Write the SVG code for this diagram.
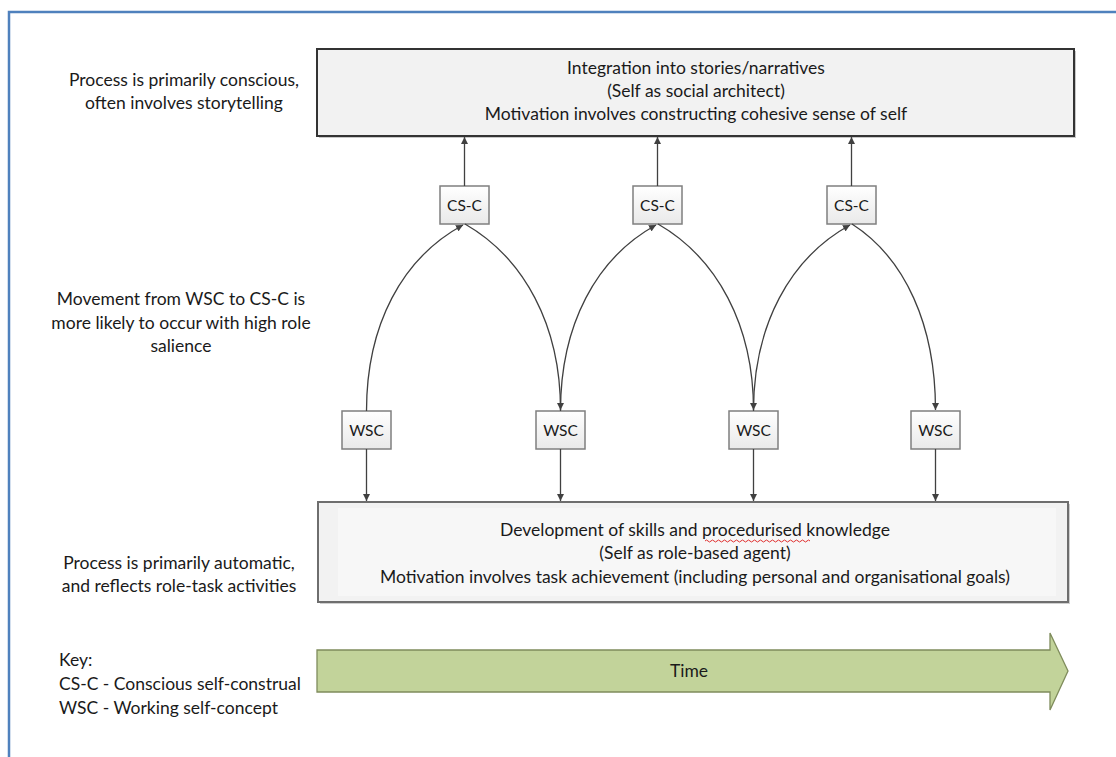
<svg xmlns="http://www.w3.org/2000/svg" width="1116" height="757" viewBox="0 0 1116 757">
  <style>
    text { font-family: Lato, "Open Sans", "Liberation Sans", sans-serif; fill: #1a1a1a; font-size: 17.5px; }
    .mid { text-anchor: middle; }
    .small { font-size: 15.5px; text-anchor: middle; }
    .conn { fill: none; stroke: #404040; stroke-width: 1.3; marker-end: url(#arrow); }
    .mini { fill: url(#miniFill); stroke: #7f7f7f; stroke-width: 1.5; }
  </style>
  <defs>
    <marker id="arrow" viewBox="0 0 10 10" refX="10" refY="5" markerWidth="7" markerHeight="7" markerUnits="userSpaceOnUse" orient="auto">
      <path d="M0,0 L10,5 L0,10 z" fill="#404040"/>
    </marker>
    <linearGradient id="miniFill" x1="0" y1="0" x2="0" y2="1">
      <stop offset="0" stop-color="#ffffff"/>
      <stop offset="1" stop-color="#e9e9e9"/>
    </linearGradient>
  </defs>

  <rect width="1116" height="757" fill="#ffffff"/>

  <!-- page frame -->
  <path d="M9,757 L9,12 L1116,12" fill="none" stroke="#4f81bd" stroke-width="2.5"/>

  <!-- side notes -->
  <g id="note-conscious">
    <text class="mid" x="184" y="86">Process is primarily conscious,</text>
    <text class="mid" x="184" y="109">often involves storytelling</text>
  </g>
  <g id="note-movement">
    <text class="mid" x="181" y="305">Movement from WSC to CS-C is</text>
    <text class="mid" x="181" y="329">more likely to occur with high role</text>
    <text class="mid" x="181" y="352">salience</text>
  </g>
  <g id="note-automatic">
    <text class="mid" x="179" y="569">Process is primarily automatic,</text>
    <text class="mid" x="179" y="592">and reflects role-task activities</text>
  </g>

  <!-- upper level: narratives -->
  <g id="narratives">
    <rect x="319" y="51" width="757" height="87" fill="#c8c8c8"/>
    <rect x="317" y="49" width="757" height="87" fill="#f2f2f2" stroke="#333333" stroke-width="2"/>
    <text class="mid" x="696" y="74">Integration into stories/narratives</text>
    <text class="mid" x="696" y="97">(Self as social architect)</text>
    <text class="mid" x="696" y="120">Motivation involves constructing cohesive sense of self</text>
  </g>

  <!-- conscious self-construal nodes -->
  <g id="csc-1">
    <rect class="mini" x="440" y="186" width="49" height="38"/>
    <text class="small" x="464.5" y="210.5">CS-C</text>
  </g>
  <g id="csc-2">
    <rect class="mini" x="633" y="186" width="49" height="38"/>
    <text class="small" x="657.5" y="210.5">CS-C</text>
  </g>
  <g id="csc-3">
    <rect class="mini" x="827" y="186" width="49" height="38"/>
    <text class="small" x="851.5" y="210.5">CS-C</text>
  </g>

  <!-- working self-concept nodes -->
  <g id="wsc-1">
    <rect class="mini" x="342" y="411" width="49" height="38"/>
    <text class="small" x="366.5" y="435.5">WSC</text>
  </g>
  <g id="wsc-2">
    <rect class="mini" x="536" y="411" width="49" height="38"/>
    <text class="small" x="560.5" y="435.5">WSC</text>
  </g>
  <g id="wsc-3">
    <rect class="mini" x="729" y="411" width="49" height="38"/>
    <text class="small" x="753.5" y="435.5">WSC</text>
  </g>
  <g id="wsc-4">
    <rect class="mini" x="911" y="411" width="49" height="38"/>
    <text class="small" x="935.5" y="435.5">WSC</text>
  </g>

  <!-- lower level: skills -->
  <g id="skills">
    <rect x="320" y="504" width="750" height="100" fill="#cfcfcf"/>
    <rect x="318" y="502" width="750" height="100" fill="#f2f2f2" stroke="#6e6e6e" stroke-width="2"/>
    <rect x="338" y="508" width="718" height="88" fill="#f7f7f7"/>
    <text class="mid" x="695" y="536">Development of skills and procedurised knowledge</text>
    <path d="M705,541 q1.5,-2 3,0 t3,0 t3,0 t3,0 t3,0 t3,0 t3,0 t3,0 t3,0 t3,0 t3,0 t3,0 t3,0 t3,0 t3,0 t3,0 t3,0 t3,0 t3,0 t3,0 t3,0 t3,0 t3,0 t3,0 t3,0 t3,0 t3,0 t3,0 t3,0 t3,0 t3,0 t3,0 t3,0 t3,0 t3,0" fill="none" stroke="#e03030" stroke-width="1"/>
    <text class="mid" x="695" y="559">(Self as role-based agent)</text>
    <text class="mid" x="695" y="583">Motivation involves task achievement (including personal and organisational goals)</text>
  </g>

  <!-- key -->
  <g id="key">
    <text x="59" y="666">Key:</text>
    <text x="59" y="690">CS-C - Conscious self-construal</text>
    <text x="59" y="714">WSC - Working self-concept</text>
  </g>

  <!-- time axis -->
  <g id="time">
    <polygon points="317,650 1050,650 1050,633 1068,671 1050,710 1050,692 317,692" fill="#c2d39a" stroke="#7f8c5c" stroke-width="1.3"/>
    <text class="mid" x="689" y="677">Time</text>
  </g>

  <!-- connectors -->
  <g id="connectors">
    <!-- CS-C up to narratives -->
    <path class="conn" d="M464.5,186 L464.5,137"/>
    <path class="conn" d="M657.5,186 L657.5,137"/>
    <path class="conn" d="M851.5,186 L851.5,137"/>
    <!-- WSC down to skills -->
    <path class="conn" d="M366.5,449 L366.5,501"/>
    <path class="conn" d="M560.5,449 L560.5,501"/>
    <path class="conn" d="M753.5,449 L753.5,501"/>
    <path class="conn" d="M935.5,449 L935.5,501"/>
    <!-- rising arcs WSC -> CS-C -->
    <path class="conn" d="M366.5,411 C366.5,325 402,258 463,225"/>
    <path class="conn" d="M560.5,411 C560.5,325 596,258 656,225"/>
    <path class="conn" d="M753.5,411 C753.5,325 790,258 850,225"/>
    <!-- falling arcs CS-C -> WSC -->
    <path class="conn" d="M465,224 C524,258 560.5,325 560.5,410"/>
    <path class="conn" d="M658,224 C717,258 753.5,325 753.5,410"/>
    <path class="conn" d="M852,224 C905,258 935.5,325 935.5,410"/>
  </g>
</svg>
